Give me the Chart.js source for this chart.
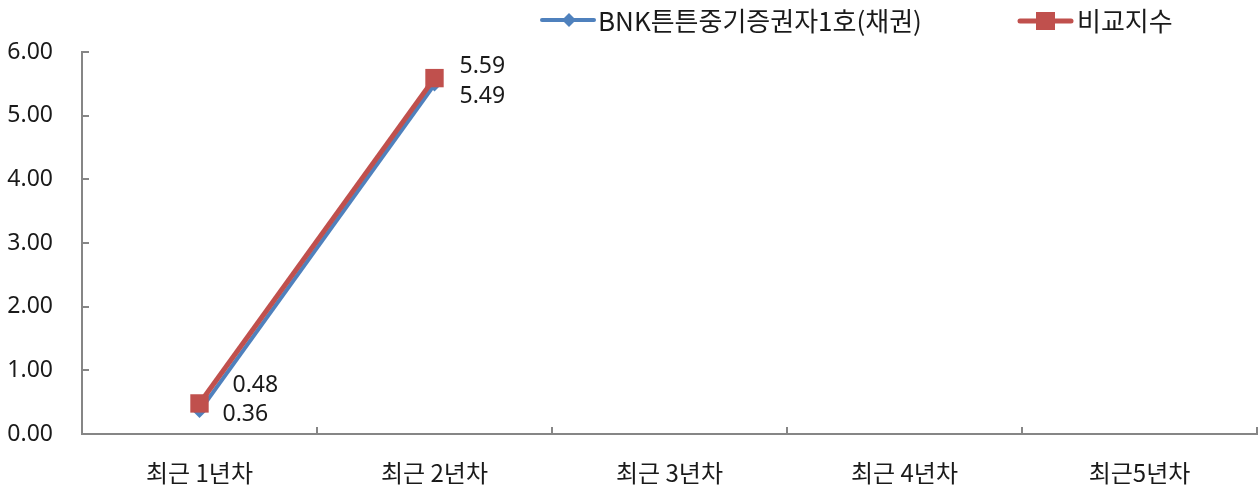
<!DOCTYPE html>
<html><head><meta charset="utf-8">
<script src="https://cdn.jsdelivr.net/npm/chart.js@4/dist/chart.umd.min.js"></script>
<style>html,body{margin:0;padding:0;background:#fff;}#wrap{width:1260px;height:491px;}</style>
</head><body><div id="wrap"><canvas id="c" width="1260" height="491"></canvas></div>
<script>
const categories = ['최근 1년차', '최근 2년차', '최근 3년차', '최근 4년차', '최근5년차'];
const fundName = 'BNK튼튼중기증권자1호(채권)';
const benchName = '비교지수';
const fundValues = [0.36, 5.49, null, null, null];
const benchValues = [0.48, 5.59, null, null, null];
const yTicks = [0, 1, 2, 3, 4, 5, 6];

// label placement offsets (style only)
const benchLabelOffset = [[33, -18], [25, -12]];
const fundLabelOffset = [[23, 3], [25, 12]];

const BLUE = '#4f81bd', RED = '#c0504d', AXIS = '#868686', TXT = '#1a1a1a';
const KFONT = '"Noto Sans CJK KR", "Noto Sans", sans-serif';
const NFONT = '"Noto Sans", sans-serif';

const overlay = {
  id: 'overlay',
  afterDraw(chart) {
    const ctx = chart.ctx, xs = chart.scales.x, ys = chart.scales.y, a = chart.chartArea;
    ctx.save();
    ctx.strokeStyle = AXIS; ctx.lineWidth = 2;
    yTicks.forEach(v => { const y = Math.round(ys.getPixelForValue(v)); ctx.beginPath(); ctx.moveTo(a.left, y); ctx.lineTo(a.left + 7, y); ctx.stroke(); });
    const half = (xs.getPixelForValue(1) - xs.getPixelForValue(0)) / 2;
    for (let i = 0; i <= categories.length; i++) {
      const x = Math.round(i < categories.length ? xs.getPixelForValue(i) - half : xs.getPixelForValue(i - 1) + half);
      ctx.beginPath(); ctx.moveTo(x, a.bottom); ctx.lineTo(x, a.bottom - 7); ctx.stroke();
    }
    ctx.font = '23px ' + NFONT; ctx.fillStyle = TXT; ctx.textAlign = 'left'; ctx.textBaseline = 'middle';
    const draw = (dsIndex, values, offs) => {
      const meta = chart.getDatasetMeta(dsIndex);
      meta.data.forEach((pt, i) => { if (values[i] == null) return; ctx.fillText(values[i].toFixed(2), pt.x + offs[i][0], pt.y + offs[i][1]); });
    };
    draw(0, benchValues, benchLabelOffset);
    draw(1, fundValues, fundLabelOffset);
    // legend
    const ly = 20;
    ctx.lineCap = 'round';
    ctx.strokeStyle = BLUE; ctx.lineWidth = 4;
    ctx.beginPath(); ctx.moveTo(542, ly); ctx.lineTo(594, ly); ctx.stroke();
    ctx.fillStyle = BLUE; ctx.beginPath(); ctx.moveTo(569, ly - 7); ctx.lineTo(576, ly); ctx.lineTo(569, ly + 7); ctx.lineTo(562, ly); ctx.closePath(); ctx.fill();
    ctx.strokeStyle = RED; ctx.lineWidth = 5;
    ctx.beginPath(); ctx.moveTo(1020, ly + 1); ctx.lineTo(1071, ly + 1); ctx.stroke();
    ctx.fillStyle = RED; ctx.fillRect(1036, ly - 8, 19, 18);
    ctx.fillStyle = TXT; ctx.font = '26px ' + KFONT; ctx.textBaseline = 'middle';
    ctx.fillText(fundName, 598, ly + 1);
    ctx.fillText(benchName, 1077, ly + 1);
    ctx.restore();
  }
};

new Chart(document.getElementById('c'), {
  type: 'line',
  data: {
    labels: categories,
    datasets: [
      { label: benchName, data: benchValues, borderColor: RED, backgroundColor: RED, borderWidth: 5,
        pointStyle: 'rect', pointRadius: 13, pointHoverRadius: 13, pointBorderWidth: 0, order: 0, spanGaps: false },
      { label: fundName, data: fundValues, borderColor: BLUE, backgroundColor: BLUE, borderWidth: 4,
        pointStyle: 'rectRot', pointRadius: 7, pointHoverRadius: 7, pointBorderWidth: 0, order: 1, spanGaps: false }
    ]
  },
  options: {
    responsive: false, animation: false, devicePixelRatio: 1,
    layout: { autoPadding: false, padding: { top: 52, right: 3, left: 0, bottom: 0 } },
    plugins: { legend: { display: false }, tooltip: { enabled: false } },
    scales: {
      x: {
        offset: true,
        grid: { display: false, drawTicks: false },
        border: { display: true, color: AXIS, width: 2 },
        ticks: { padding: 24, color: TXT, font: { family: KFONT, size: 24 }, maxRotation: 0 },
        afterFit(s) { s.height = 57; s.paddingLeft = 0; s.paddingRight = 0; }
      },
      y: {
        min: 0, max: 6,
        grid: { display: false, drawTicks: false },
        border: { display: true, color: AXIS, width: 2 },
        ticks: { stepSize: 1, padding: 29, color: TXT, font: { family: NFONT, size: 23 },
                 callback: v => Number(v).toFixed(2) },
        afterFit(s) { s.width = 82; }
      }
    }
  },
  plugins: [overlay]
});
</script></body></html>
